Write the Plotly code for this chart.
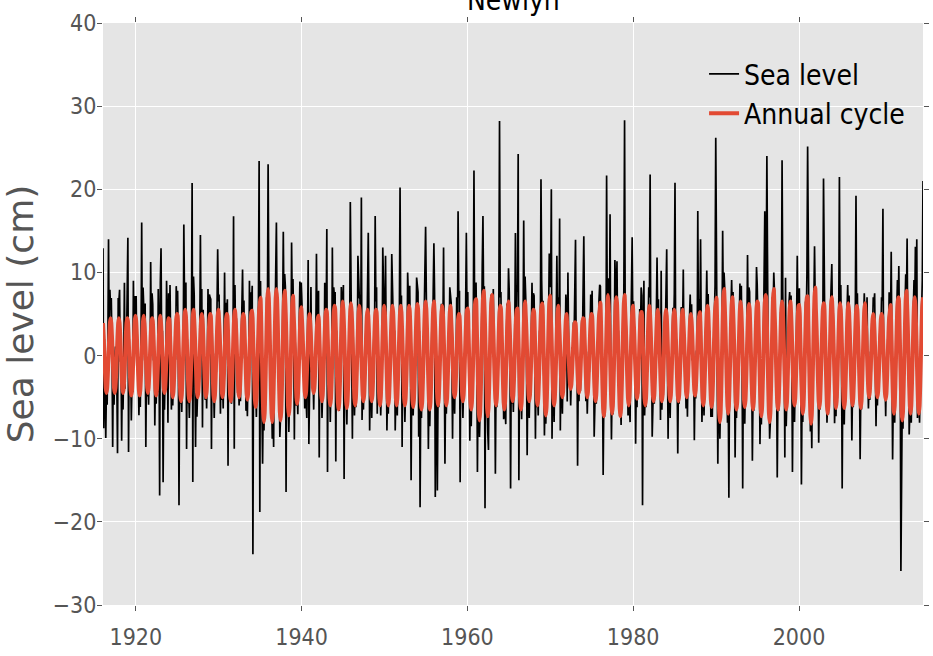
import plotly.graph_objects as go

# ---------------- data ----------------
years = list(range(1916, 2015))
months = list(range(12))

# annual-cycle amplitude per year (cm)
annual_amp = [
    4.5, 4.5, 4.5, 4.8, 4.8, 4.5, 4.8, 4.5,            # 1916-1923
    5.0, 5.5, 5.5, 5.0, 5.0, 5.5, 5.0, 5.5, 5.0,       # 1924-1932
    5.3, 6.2, 8.0, 8.0, 7.8, 7.2, 5.8, 5.0,            # 1933-1940
    4.5, 5.5, 6.0, 6.5, 6.3, 6.0, 5.5, 5.5, 6.0,       # 1941-1949
    6.0, 6.0, 6.0, 6.2, 6.5, 6.5, 6.0, 6.0,            # 1950-1957
    5.0, 5.5, 6.5, 7.8, 7.3, 6.0, 6.5, 5.5, 6.5,       # 1958-1966
    5.5, 6.0, 7.2, 6.0, 5.0, 4.0, 4.5, 5.0,            # 1967-1974
    5.5, 7.3, 7.0, 7.3, 6.0, 5.2, 6.0, 5.5, 5.5,       # 1975-1983
    5.5, 5.5, 5.0, 4.8, 6.0, 6.2, 8.0, 7.0,            # 1984-1991
    6.5, 6.2, 6.5, 7.3, 8.0, 6.5, 6.5, 6.0, 7.0,       # 1992-2000
    8.2, 6.3, 7.0, 6.3, 6.3, 6.0, 6.3, 5.0,            # 2001-2008
    5.0, 5.3, 7.0, 7.8, 7.0, 7.0,                      # 2009-2014
]

# normalised monthly shape of the annual cycle (Jan..Dec)
annual_shape = [0.87, 0.5, 0.0, -0.5, -0.87, -1.0, -0.87, -0.5, 0.0, 0.5, 0.87, 1.0]

# monthly departures of sea level from the annual cycle (cm), Jan..Dec per year
residual = [
    [9, -11, 2, -3, -6, 1, -2, 3, 14, -2, 4, 1],      # 1916
    [3, -1, -11, 2, -2, 4, 5, 1, -3, -14, 3, 2],
    [4, -3, 1, -8, 2, -2, 3, 11, -4, 2, -3, 3],
    [10, -14, 2, -2, 3, -3, 1, -2, 9, -1, 3, -2],
    [3, -4, 2, 1, -3, 2, -2, 3, 16, -3, 4, 1],        # 1920
    [-3, 4, -11, 2, -1, 3, -2, 1, -3, 9, -2, 3],
    [2, -3, 3, -6, 2, -1, 3, -2, 8, 1, -21, 4],
    [9, -2, 3, -13, 1, -2, 2, -1, 9, 2, -12, 3],
    [-2, 6, 1, -4, 2, -1, 3, -2, 2, -3, 4, 1],
    [3, -2, -18, 2, -1, 3, -2, 1, -3, 13, 2, -3],     # 1925
    [4, -14, 2, -3, 1, -2, 2, -1, 3, 18, -20, 4],
    [3, -2, -11, 2, -3, 1, 3, -2, 1, 12, -2, 3],
    [-13, 3, -2, 2, -1, 3, -2, 1, 8, -2, 3, 2],
    [2, -14, 3, -1, 2, -2, 1, 3, -2, 2, 8, 1],
    [3, -2, -7, 2, -1, 2, -2, 3, 10, -3, 2, -1],      # 1930
    [2, -16, 3, -2, 1, 3, -1, 2, -2, 14, -16, 3],
    [-3, 2, 1, -2, 3, -1, 2, -3, 1, 3, 6, -2],
    [2, -3, 1, -4, 2, -2, 3, -1, 9, -2, 3, 1],
    [3, -27, 2, -3, 1, 3, -2, 2, -1, 3, 18, -25],
    [2, -3, 1, -9, 2, -1, 3, -2, 1, 3, -2, 15],       # 1935
    [2, -3, 2, -1, 3, -2, 1, -7, 2, -1, 3, 8],
    [-2, 3, -1, 2, -3, 1, 2, -2, 3, 11, -2, 2],
    [2, -20, 3, -1, 2, -2, 1, 3, -2, 10, -1, 2],
    [-2, -13, 2, 3, -1, 2, -2, 1, 3, 6, -2, 3],
    [2, -3, 1, 2, -2, 3, -1, -5, 2, 9, -15, -9],      # 1940
    [-3, 6, -2, 1, 2, -2, 3, -1, 2, 10, -2, 3],
    [3, -15, 2, -1, 3, -2, 1, 2, -3, 6, 2, -2],
    [10, -17, 2, -1, 3, -2, 2, -1, 13, -2, 3, 1],
    [2, -16, 3, -2, 1, 3, -1, 2, -2, 5, 1, -2],
    [3, -18, 2, -1, 2, -2, 3, -1, 2, -2, 13, 2],      # 1945
    [-2, -13, 3, 1, -2, 2, -1, 3, -2, 9, 2, 1],
    [2, -3, 19, -5, 2, -1, 3, -2, 1, 2, -3, 2],
    [10, 2, -9, 1, 3, -2, 2, -1, 2, -2, 12, 1],
    [3, -10, 2, -2, 1, 3, -2, 2, -1, 10, 2, -2],
    [-2, 9, 1, -6, 2, -1, 3, -2, 2, -1, 7, 2],        # 1950
    [2, -2, 3, -6, 1, 2, -2, 3, -1, 2, 15, -2],
    [2, -14, 3, -1, 2, -2, 1, 3, -2, 7, 2, -1],
    [3, -2, -15, 1, 2, -1, 3, -2, 2, -1, 4, 2],
    [2, -13, 3, -15, 2, -1, 3, -2, 1, 3, 8, 9],
    [2, -3, 1, -8, 3, -2, 2, -1, 3, -2, 2, 7],        # 1955
    [2, -20, 3, -2, -11, 2, -1, 3, -2, 2, 1, -2],
    [-2, 10, 1, -10, 2, -1, 3, -2, 2, -1, 3, 1],
    [2, -3, -10, 2, 1, -2, 3, -1, 7, -2, 13, 2],
    [3, -18, 2, -1, 2, -2, 1, 3, -2, 2, 10, -1],
    [2, -3, 1, -7, 3, -2, 2, -1, 3, 19, -2, 2],       # 1960
    [2, -2, -14, 1, 3, -2, 2, -1, 2, 7, 10, -2],
    [2, -22, 3, -1, 2, -2, -5, 3, -2, 2, 1, -2],
    [-3, 5, -2, 2, -9, 3, -1, 2, -2, 3, 23, 1],
    [2, -3, 1, 3, -2, 2, -1, -5, 2, 3, -2, 4],
    [3, -2, -16, 2, -1, 3, -2, 1, 2, 12, -2, 3],      # 1965
    [2, 21, -15, 2, -1, 3, -2, 1, 2, 13, -2, 3],
    [2, -3, -12, 1, 3, -2, 2, -1, 3, 6, -2, 2],
    [2, -2, -10, 3, -1, 2, -2, 1, 3, -2, 16, 3],
    [-2, 3, 1, -6, 2, -1, 3, -2, 2, 1, 6, 2],
    [3, 17, -10, 1, 2, -2, 3, -1, 2, 9, -2, 1],       # 1970
    [-2, 14, -9, 2, 1, -2, 3, -1, 2, -2, 3, 1],
    [-9, 8, 2, -1, 2, -2, 1, 3, -2, 2, -1, 3],
    [10, -2, 3, -11, 2, -1, 3, -2, 1, 2, -2, 3],
    [10, 2, -1, -3, 2, -2, 1, 3, -2, 2, 3, -1],
    [3, -2, 2, -7, 1, 3, -1, 2, -2, 1, 2, 3],         # 1975
    [2, -3, 1, 2, -8, 2, -1, 3, -2, 18, -2, 2],
    [2, -2, 17, 2, -4, 3, -1, 2, -2, 8, 1, -2],
    [5, -2, 3, 1, -1, 2, -2, 3, 1, -2, 2, 21],
    [-3, 2, 1, 3, -2, 2, -1, -5, 2, 3, 9, -2],
    [2, -3, 1, -8, 2, -1, 3, -2, 2, 3, -2, 3],        # 1980
    [2, -21, 1, 12, -2, 2, -1, 3, -2, 2, 3, 1],
    [17, -2, 2, -7, 1, 3, -1, 2, -2, 2, 7, -1],
    [2, -2, 3, -5, 15, -1, 2, -2, 3, 1, -2, 3],
    [8, -2, -10, 2, 1, -2, 3, -1, 2, 3, -2, 2],
    [16, -2, 2, 1, -7, 3, -1, 2, -2, 3, 1, -2],       # 1985
    [6, -2, 2, 1, -2, 3, -3, 2, -1, 2, 3, -2],
    [2, -3, 1, 2, -6, 2, -1, 3, -2, 15, -2, 2],
    [-2, 11, 2, -5, 1, 3, -2, 2, -1, 2, 5, -2],
    [2, -2, 3, 1, -2, 2, -2, 1, 2, -1, 3, 20],
    [3, -2, -13, 2, 1, -2, 3, -1, 2, 11, -2, 2],      # 1990
    [2, -3, 1, 2, -2, 3, -11, 2, -1, 2, 3, -2],
    [2, -2, 1, -9, 2, -1, 3, -2, 2, 1, 3, -2],
    [3, -2, -16, 2, 1, -2, 3, -1, 2, 9, -2, 2],
    [2, -3, 1, 2, -7, 2, -1, 3, -2, 2, 5, 2],
    [-2, 2, 1, -7, 2, -1, 3, -2, 2, 3, 11, -2],       # 1995
    [2, 20, -2, 1, 3, -2, -1, 2, -2, 3, -2, 2],
    [2, -3, 1, 2, -9, 2, -1, 3, -2, 2, -2, 17],
    [2, -2, 3, -9, 15, -2, 1, 2, -1, 3, 2, -2],
    [2, -2, -14, 1, 3, -2, 2, -1, 2, 9, -2, 2],
    [2, -3, 1, -12, 2, -1, 3, -2, 2, 3, -2, 3],       # 2000
    [18, -2, 2, 1, -2, 3, -4, 2, -1, 2, 6, -2],
    [2, -3, 1, 2, -5, 2, -1, 3, -2, 2, -2, 15],
    [2, -2, 3, 1, -2, 2, -1, 3, -2, 2, 3, 4],
    [-2, 2, 1, -5, 2, -1, 3, -2, 2, 1, 16, -2],
    [3, -2, -16, 2, 1, -2, 3, -1, 2, 3, 3, -2],       # 2005
    [2, -3, 1, 2, -5, 2, -1, 3, -2, 2, 14, -2],
    [2, -2, 3, 1, -7, 2, -1, 3, -2, 1, 2, -2],
    [2, -2, 7, 1, -2, 2, -1, 3, -2, 2, -1, 2],
    [2, 5, 1, -6, 2, -1, 3, -2, 2, 1, -2, 2],
    [2, 15, -2, 1, 2, -2, 3, -1, 2, -2, 3, 1],        # 2010
    [-2, 9, 2, -9, 1, 3, -2, 2, -1, 2, 3, -2],
    [4, -2, 2, -22, 1, 3, -2, 2, -1, 2, 3, -2],
    [8, -2, 2, -6, 1, 3, -2, 2, -1, 2, 3, -2],
    [7, -2, 14, -4, 1, 3, -2, 2, -1, 2, 3, 14],       # 2014
]

# ---------------- build monthly series ----------------
time, annual, sea_level = [], [], []
for yi, yr in enumerate(years):
    for m in months:
        t = yr + (m + 0.5) / 12.0
        a = annual_amp[yi] * annual_shape[m]
        time.append(t)
        annual.append(a)
        sea_level.append(a + residual[yi][m])

x_ticks = [1920, 1940, 1960, 1980, 2000]
y_ticks = [-30, -20, -10, 0, 10, 20, 30, 40]
y_tick_text = [("\u2212" + str(-v)) if v < 0 else str(v) for v in y_ticks]

COND = "DejaVu Sans Condensed, Liberation Sans Narrow, Arial Narrow, Liberation Sans, sans-serif"
GREY = "#555555"

fig = go.Figure()
fig.add_trace(go.Scatter(x=time, y=sea_level, mode="lines", name="Sea level",
                         line=dict(color="black", width=1.7)))
fig.add_trace(go.Scatter(x=time, y=annual, mode="lines", name="Annual cycle",
                         line=dict(color="#E24A33", width=4, shape="spline", smoothing=0.6)))

fig.update_layout(
    width=933, height=656,
    margin=dict(l=103, r=10, t=23, b=51),
    paper_bgcolor="white",
    plot_bgcolor="#E5E5E5",
    showlegend=True,
    legend=dict(x=0.733, y=0.955, xanchor="left", yanchor="top",
                bgcolor="rgba(0,0,0,0)", borderwidth=0, itemwidth=30,
                font=dict(family=COND, size=28, color="black"),
                tracegroupgap=0),
    annotations=[dict(text="Newlyn", x=0.5, y=1.0, xref="paper", yref="paper",
                      xanchor="center", yanchor="bottom", yshift=4, showarrow=False,
                      font=dict(family=COND, size=28, color="black"))],
)
fig.update_xaxes(range=[time[0], time[-1]], tickvals=x_ticks, automargin=False,
                 showgrid=True, gridcolor="white", gridwidth=1, zeroline=False,
                 ticks="outside", ticklen=5, tickcolor=GREY, tickwidth=1,
                 showline=True, linecolor="white", mirror="ticks",
                 ticklabelstandoff=6,
                 tickfont=dict(family=COND, size=23, color=GREY))
fig.update_yaxes(range=[-30, 40], tickvals=y_ticks, ticktext=y_tick_text, automargin=False,
                 showgrid=True, gridcolor="white", gridwidth=1, zeroline=False,
                 ticks="outside", ticklen=5, tickcolor=GREY, tickwidth=1,
                 showline=True, linecolor="white", mirror="ticks",
                 ticklabelstandoff=-4,
                 tickfont=dict(family=COND, size=23, color=GREY),
                 title=dict(text="Sea level (cm)", standoff=8,
                            font=dict(family="DejaVu Sans", size=36, color=GREY)))

# remove the default page margin so the figure sits at the window's top-left corner
fig.write_html("out.html", config={"displayModeBar": False},
               post_script="document.body.style.margin='0px';")
